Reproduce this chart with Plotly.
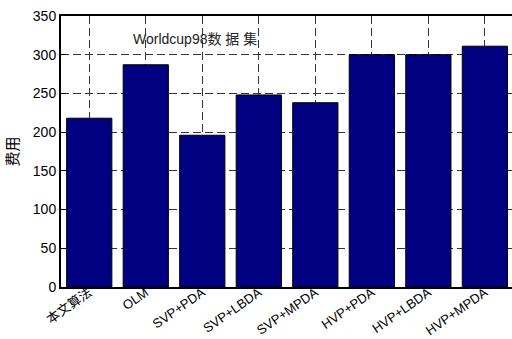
import plotly.graph_objects as go

# Cost per algorithm on the Worldcup98 dataset
algorithms = ["本文算法", "OLM", "SVP+PDA", "SVP+LBDA", "SVP+MPDA",
              "HVP+PDA", "HVP+LBDA", "HVP+MPDA"]
costs = [218, 287, 196, 248, 238, 300, 300, 311]
positions = list(range(1, len(algorithms) + 1))
y_ticks = [0, 50, 100, 150, 200, 250, 300, 350]

font_family = "Liberation Sans, Arial, Noto Sans CJK SC, sans-serif"

fig = go.Figure(
    go.Bar(
        x=positions,
        y=costs,
        width=0.8,
        marker=dict(color="#000080", line=dict(color="black", width=1)),
    )
)

fig.add_annotation(
    x=1.74, y=320, text="Worldcup98数 据 集", showarrow=False,
    xanchor="left", yanchor="middle",
    font=dict(family=font_family, size=14, color="#222222"),
)

fig.update_layout(
    width=512, height=339,
    margin=dict(l=61, r=0, t=16, b=52),
    paper_bgcolor="white", plot_bgcolor="white",
    showlegend=False,
    font=dict(family=font_family, size=14, color="black"),
    xaxis=dict(
        range=[0.5, 8.48],
        tickmode="array", tickvals=positions, ticktext=algorithms,
        tickangle=-35, automargin=False, ticklabelstandoff=-9,
        showgrid=True, gridcolor="#333333", griddash="8px,4px", gridwidth=1,
        showline=True, linecolor="black", linewidth=2, mirror=True,
        ticks="", zeroline=False,
        tickfont=dict(size=13),
    ),
    yaxis=dict(
        range=[0, 350], automargin=False,
        tickmode="array", tickvals=y_ticks,
        showgrid=True, gridcolor="#333333", griddash="8px,4px", gridwidth=1,
        showline=True, linecolor="black", linewidth=2,
        ticks="inside", ticklen=5, tickcolor="black", tickwidth=1,
        zeroline=False,
        title=dict(text="费用", font=dict(size=15), standoff=11),
    ),
)

fig.write_html("out.html")
